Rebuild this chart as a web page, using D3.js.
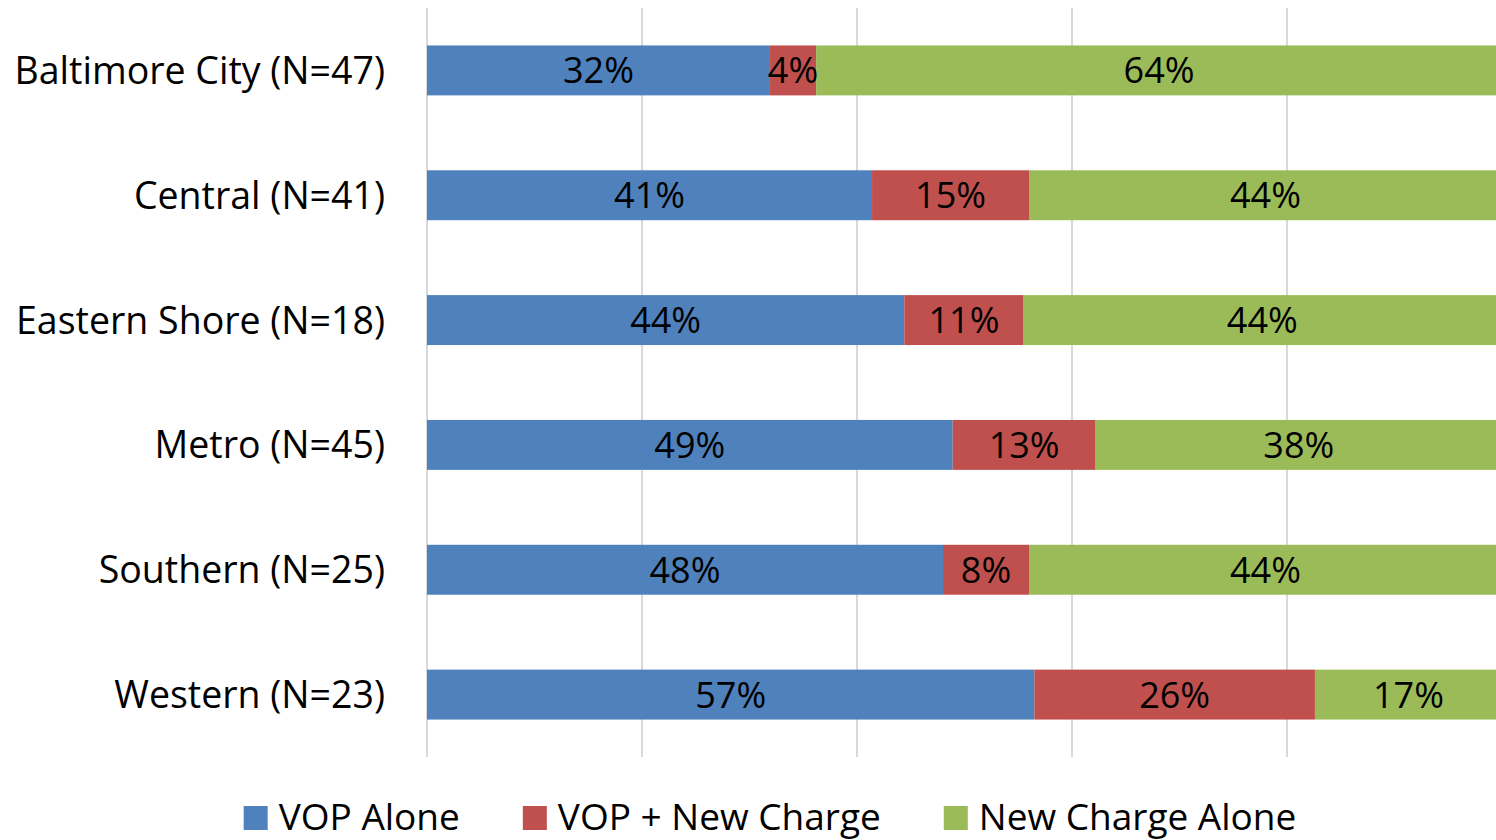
<!DOCTYPE html>
<html>
<head>
<meta charset="utf-8">
<script src="https://cdn.jsdelivr.net/npm/d3@7"></script>
<style>
  body { margin: 0; background: #fff; }
  svg { display: block; font-family: "Open Sans", "Noto Sans", sans-serif; }
</style>
</head>
<body>
<div id="chart"></div>
<script>
const regions = [
  "Baltimore City (N=47)",
  "Central (N=41)",
  "Eastern Shore (N=18)",
  "Metro (N=45)",
  "Southern (N=25)",
  "Western (N=23)"
];
const seriesNames = ["VOP Alone", "VOP + New Charge", "New Charge Alone"];
const vopAlone = [31.9, 41.4, 44.4, 48.9, 48, 56.5];
const vopNewCharge = [4.3, 14.6, 11.1, 13.3, 8, 26.1];
const newChargeAlone = [63.8, 44.0, 44.4, 37.8, 44, 17.4];
const colors = ["#4F81BD", "#C0504D", "#9BBB59"];
const gridTicks = [0, 20, 40, 60, 80, 100];

const width = 1496;
const height = 840;
const margin = { top: 8, right: -6, bottom: 83, left: 427 };

const rows = regions.map((r, i) => ({
  region: r,
  "VOP Alone": vopAlone[i],
  "VOP + New Charge": vopNewCharge[i],
  "New Charge Alone": newChargeAlone[i]
}));

const stacked = d3.stack().keys(seriesNames)(rows);

const svg = d3
  .select("#chart")
  .append("svg")
  .attr("width", width)
  .attr("height", height);

const x = d3
  .scaleLinear()
  .domain([0, 100])
  .range([margin.left, width - margin.right]);

const y = d3
  .scaleBand()
  .domain(regions)
  .range([margin.top, height - margin.bottom])
  .paddingInner(0.6)
  .paddingOuter(0.3);

const color = d3.scaleOrdinal().domain(seriesNames).range(colors);

// vertical gridlines
svg
  .append("g")
  .selectAll("line")
  .data(gridTicks)
  .join("line")
  .attr("x1", (d) => x(d))
  .attr("x2", (d) => x(d))
  .attr("y1", margin.top)
  .attr("y2", height - margin.bottom)
  .attr("stroke", "#d9d9d9")
  .attr("stroke-width", 2);

// bars
const layer = svg
  .append("g")
  .selectAll("g")
  .data(stacked)
  .join("g")
  .attr("fill", (d) => color(d.key));

layer
  .selectAll("rect")
  .data((d) => d)
  .join("rect")
  .attr("x", (d) => x(d[0]))
  .attr("y", (d) => y(d.data.region))
  .attr("width", (d) => x(d[1]) - x(d[0]))
  .attr("height", y.bandwidth());

// value labels
const labels = svg.append("g").attr("font-size", 36).attr("fill", "#000");
stacked.forEach((s) => {
  labels
    .selectAll(null)
    .data(s)
    .join("text")
    .attr("x", (d) => (x(d[0]) + x(d[1])) / 2)
    .attr("y", (d) => y(d.data.region) + y.bandwidth() / 2)
    .attr("dy", "0.36em")
    .attr("text-anchor", "middle")
    .text((d) => Math.round(d[1] - d[0]) + "%");
});

// category axis
svg
  .append("g")
  .attr("font-size", 37.5)
  .selectAll("text")
  .data(regions)
  .join("text")
  .attr("x", 385)
  .attr("y", (d) => y(d) + y.bandwidth() / 2)
  .attr("dy", "0.36em")
  .attr("text-anchor", "end")
  .attr("fill", "#000")
  .text((d) => d);

// legend
const legend = svg.append("g").attr("font-size", 37);
const items = legend
  .selectAll("g")
  .data(seriesNames)
  .join("g");
items
  .append("rect")
  .attr("width", 24)
  .attr("height", 24)
  .attr("y", 806)
  .attr("fill", (d) => color(d));
items
  .append("text")
  .attr("x", 35)
  .attr("y", 830)
  .attr("fill", "#000")
  .text((d) => d);

const widths = [];
items.each(function () {
  const w = 35 + d3.select(this).select("text").node().getComputedTextLength();
  widths.push(w);
});
const gap = 63;
const total = d3.sum(widths) + gap * (widths.length - 1);
let start = 770 - total / 2;
items.attr("transform", (d, i) => {
  const t = `translate(${start},0)`;
  start += widths[i] + gap;
  return t;
});
</script>
</body>
</html>
